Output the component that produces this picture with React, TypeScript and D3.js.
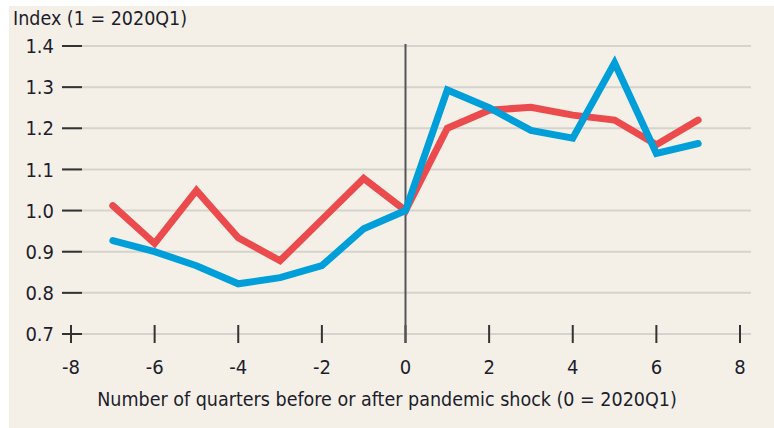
import React, { useEffect, useRef } from 'react';
import * as d3 from 'd3';

// quarters relative to the pandemic shock
const quarters = [-7, -6, -5, -4, -3, -2, -1, 0, 1, 2, 3, 4, 5, 6, 7];
const redSeries = [1.012, 0.92, 1.049, 0.934, 0.878, 0.978, 1.078, 1.0, 1.2, 1.244, 1.251, 1.232, 1.22, 1.16, 1.22];
const blueSeries = [0.927, 0.9, 0.866, 0.822, 0.837, 0.866, 0.956, 1.0, 1.293, 1.25, 1.195, 1.176, 1.359, 1.139, 1.163];
const yTicks = [0.7, 0.8, 0.9, 1.0, 1.1, 1.2, 1.3, 1.4];
const xTicks = [-8, -6, -4, -2, 0, 2, 4, 6, 8];

const W = 774;
const H = 428;
const FONT = '"DejaVu Sans Condensed", "DejaVu Sans", sans-serif';

const App = () => {
    const ref = useRef<SVGSVGElement>(null);

    useEffect(() => {
        const svg = d3.select(ref.current);
        svg.selectAll('*').remove();

        const x = d3.scaleLinear().domain([-8, 8]).range([71, 740]);
        const y = d3.scaleLinear().domain([0.7, 1.4]).range([334, 46]);

        svg.append('rect')
            .attr('x', 9)
            .attr('y', 6)
            .attr('width', W - 9)
            .attr('height', H - 6)
            .attr('fill', '#f4f0e8');

        // gridlines
        svg.append('g')
            .selectAll('line')
            .data(yTicks)
            .enter()
            .append('line')
            .attr('x1', 62)
            .attr('x2', 751)
            .attr('y1', d => y(d))
            .attr('y2', d => y(d))
            .attr('stroke', '#d6d3cc')
            .attr('stroke-width', 2);

        // y tick dashes
        svg.append('g')
            .selectAll('line')
            .data(yTicks)
            .enter()
            .append('line')
            .attr('x1', 62)
            .attr('x2', 82)
            .attr('y1', d => y(d))
            .attr('y2', d => y(d))
            .attr('stroke', '#333')
            .attr('stroke-width', 2);

        svg.append('g')
            .selectAll('text')
            .data(yTicks)
            .enter()
            .append('text')
            .attr('x', 54)
            .attr('y', d => y(d))
            .attr('dy', '0.36em')
            .attr('text-anchor', 'end')
            .attr('font-family', FONT)
            .attr('font-size', 20)
            .attr('fill', '#1d1d2b')
            .text(d => d.toFixed(1));

        // x ticks
        svg.append('g')
            .selectAll('line')
            .data(xTicks)
            .enter()
            .append('line')
            .attr('x1', d => x(d))
            .attr('x2', d => x(d))
            .attr('y1', 325)
            .attr('y2', 343)
            .attr('stroke', '#333')
            .attr('stroke-width', 2);

        svg.append('g')
            .selectAll('text')
            .data(xTicks)
            .enter()
            .append('text')
            .attr('x', d => x(d))
            .attr('y', 374)
            .attr('text-anchor', 'middle')
            .attr('font-family', FONT)
            .attr('font-size', 20)
            .attr('fill', '#1d1d2b')
            .text(d => d);

        // zero line
        svg.append('line')
            .attr('x1', x(0))
            .attr('x2', x(0))
            .attr('y1', 44)
            .attr('y2', 343)
            .attr('stroke', '#555')
            .attr('stroke-width', 2);

        const line = d3
            .line<number>()
            .x((d, i) => x(quarters[i]))
            .y(d => y(d));

        svg.append('path')
            .datum(redSeries)
            .attr('d', line)
            .attr('fill', 'none')
            .attr('stroke', '#ec4b4d')
            .attr('stroke-width', 7)
            .attr('stroke-linejoin', 'miter')
            .attr('stroke-linecap', 'round');

        svg.append('path')
            .datum(blueSeries)
            .attr('d', line)
            .attr('fill', 'none')
            .attr('stroke', '#019fda')
            .attr('stroke-width', 7)
            .attr('stroke-linejoin', 'miter')
            .attr('stroke-linecap', 'round');

        svg.append('text')
            .attr('x', 13)
            .attr('y', 25)
            .attr('font-family', FONT)
            .attr('font-size', 19.5)
            .attr('fill', '#1d1d2b')
            .text('Index (1 = 2020Q1)');

        svg.append('text')
            .attr('x', 387)
            .attr('y', 406)
            .attr('text-anchor', 'middle')
            .attr('font-family', FONT)
            .attr('font-size', 19.5)
            .attr('fill', '#1d1d2b')
            .text('Number of quarters before or after pandemic shock (0 = 2020Q1)');
    }, []);

    return <svg ref={ref} width={W} height={H} style={{ position: 'absolute', left: 0, top: 0 }} />;
};

export default App;
